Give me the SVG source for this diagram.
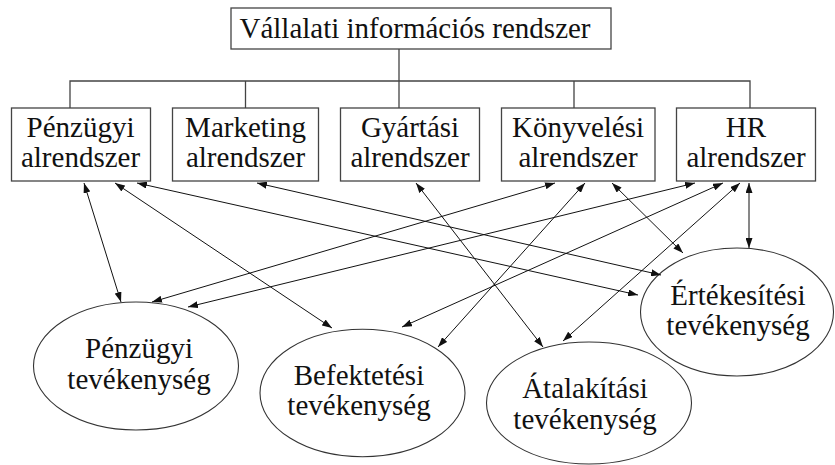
<svg xmlns="http://www.w3.org/2000/svg" width="835" height="465" viewBox="0 0 835 465">
<defs>
<marker id="ah" markerWidth="10" markerHeight="7" refX="10" refY="3.5" orient="auto-start-reverse" markerUnits="userSpaceOnUse">
<path d="M0,0 L10,3.5 L0,7 z" fill="#111"/>
</marker>
<style>
.box{fill:#fff;stroke:#444;stroke-width:1.3}
.ell{fill:#fff;stroke:#333;stroke-width:1.1}
.tree{fill:none;stroke:#444;stroke-width:1.3}
.c{fill:none;stroke:#111;stroke-width:1;marker-start:url(#ah);marker-end:url(#ah)}
</style>
</defs>
<rect width="835" height="465" fill="#fff"/>
<g id="tree-lines">
<path class="tree" d="M399,49 V81 M70,108 V81 H750 V108 M245.5,81 V108 M399,81 V108 M574,81 V108"/>
</g>
<g font-family="'Liberation Serif', 'DejaVu Serif', serif" font-size="29" fill="#111" text-anchor="middle">
<g id="root">
<rect class="box" x="231" y="8" width="380" height="41"/>
<text x="415" y="37.5">Vállalati információs rendszer</text>
</g>
<g id="penzugyi-alr">
<rect class="box" x="11.5" y="108" width="139" height="73"/>
<text x="80.5" y="137">Pénzügyi</text>
<text x="80.5" y="167">alrendszer</text>
</g>
<g id="marketing-alr">
<rect class="box" x="172.5" y="108" width="146" height="73"/>
<text x="245.5" y="137">Marketing</text>
<text x="245.5" y="167">alrendszer</text>
</g>
<g id="gyartasi-alr">
<rect class="box" x="340.5" y="108" width="139" height="73"/>
<text x="410" y="137">Gyártási</text>
<text x="410" y="167">alrendszer</text>
</g>
<g id="konyvelesi-alr">
<rect class="box" x="501.5" y="108" width="153.5" height="73"/>
<text x="578" y="137">Könyvelési</text>
<text x="578" y="167">alrendszer</text>
</g>
<g id="hr-alr">
<rect class="box" x="676.5" y="108" width="139" height="73"/>
<text x="746" y="137">HR</text>
<text x="746" y="167">alrendszer</text>
</g>
<g id="penzugyi-tev">
<ellipse class="ell" cx="136" cy="366" rx="102.5" ry="64"/>
<text x="139" y="358">Pénzügyi</text>
<text x="139" y="388.5">tevékenység</text>
</g>
<g id="befektetesi-tev">
<ellipse class="ell" cx="362.5" cy="393" rx="102.5" ry="63.7"/>
<text x="359" y="385">Befektetési</text>
<text x="359" y="415">tevékenység</text>
</g>
<g id="atalakitasi-tev">
<ellipse class="ell" cx="589" cy="403" rx="102.5" ry="61"/>
<text x="585" y="398">Átalakítási</text>
<text x="585" y="429">tevékenység</text>
</g>
<g id="ertekesitesi-tev">
<ellipse class="ell" cx="737" cy="312" rx="96.5" ry="64"/>
<text x="738" y="305">Értékesítési</text>
<text x="738" y="335">tevékenység</text>
</g>
</g>
<g id="connectors">
<line class="c" x1="84" y1="183" x2="121" y2="302"/>
<line class="c" x1="115" y1="183" x2="332" y2="328"/>
<line class="c" x1="137" y1="183" x2="638" y2="295"/>
<line class="c" x1="257" y1="183" x2="661" y2="275"/>
<line class="c" x1="416" y1="183" x2="543" y2="347"/>
<line class="c" x1="555" y1="183" x2="152" y2="302"/>
<line class="c" x1="585" y1="183" x2="438" y2="347"/>
<line class="c" x1="612" y1="183" x2="683" y2="253"/>
<line class="c" x1="695" y1="183" x2="188" y2="307"/>
<line class="c" x1="723" y1="183" x2="402" y2="327"/>
<line class="c" x1="740" y1="183" x2="563" y2="341"/>
<line class="c" x1="749" y1="183" x2="749" y2="248"/>
</g>
</svg>
